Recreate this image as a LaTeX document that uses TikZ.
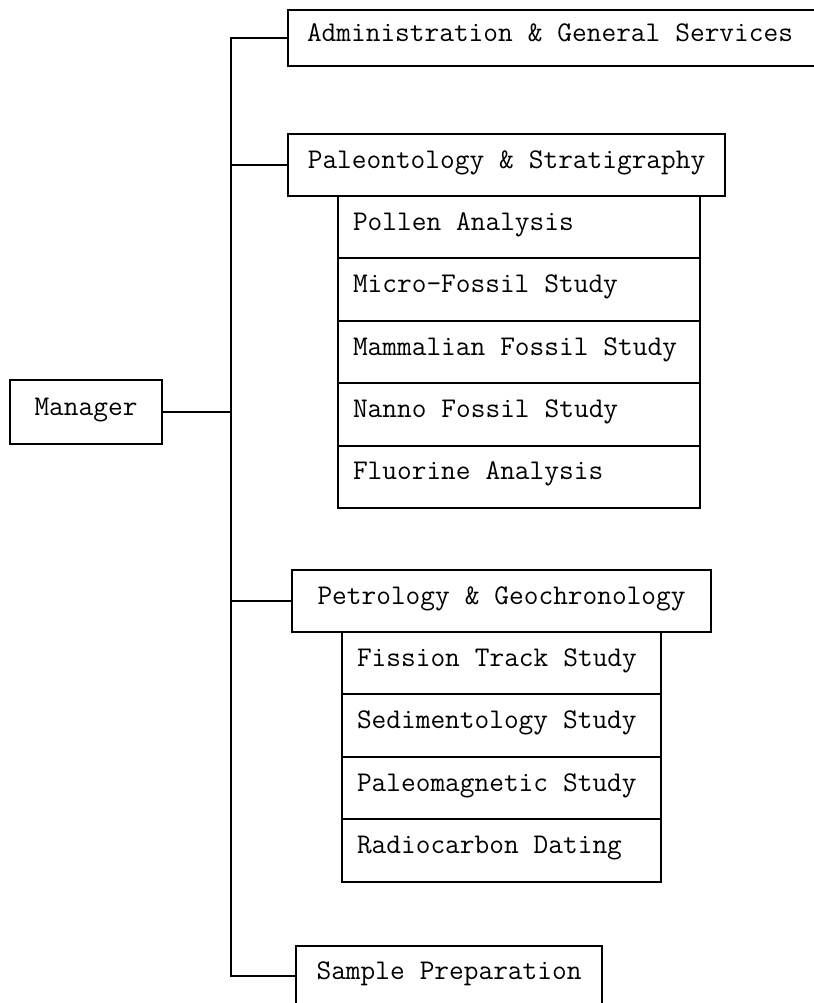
\documentclass[tikz,border=0pt]{standalone}
\usepackage{tikz}
\usetikzlibrary{positioning}

\newcommand{\orgfont}{\fontsize{20.3}{24}\selectfont\ttfamily\spaceskip=0.525em\relax}

\begin{document}
\begin{tikzpicture}[x=0.025cm, y=-0.025cm,
    every node/.style={font=\orgfont},
    unit/.style={draw, line width=1.4pt, outer sep=0pt, anchor=west, minimum height=1.55cm, text height=1.0ex, text depth=0pt},
    leftbox/.style={execute at begin node={\hbox to #1\bgroup}, execute at end node={\hfil\egroup}},
    sub/.style={draw, line width=1.4pt, outer sep=0pt, anchor=north west, minimum height=1.56cm, inner xsep=0.375cm, text height=1.0ex, text depth=0pt, leftbox=#1},
    link/.style={draw, line width=1.4pt}
]
    \useasboundingbox (0,0) rectangle (813,1003);

    % Units
    \node[unit, anchor=center, minimum width=3.8cm, minimum height=1.6cm] (mgr) at (86,412) {Manager};
    \node[unit, inner xsep=0.475cm, minimum height=1.4cm, leftbox=13cm] (admin) at (288,38) {Administration \& General Services};
    \node[unit, minimum width=10.925cm] (paleo) at (288,165) {Paleontology \& Stratigraphy};
    \node[unit, minimum width=10.475cm] (petro) at (292,601) {Petrology \& Geochronology};
    \node[unit, minimum width=7.65cm, minimum height=1.5cm] (sprep) at (296,976) {Sample Preparation};

    % Paleontology sections
    \node[sub=8.3cm] (pollen) at ([xshift=1.25cm]paleo.south west) {Pollen Analysis};
    \node[sub=8.3cm] (micro) at (pollen.south west) {Micro-Fossil Study};
    \node[sub=8.3cm] (mammal) at (micro.south west) {Mammalian Fossil Study};
    \node[sub=8.3cm] (nanno) at (mammal.south west) {Nanno Fossil Study};
    \node[sub=8.3cm] (fluor) at (nanno.south west) {Fluorine Analysis};

    % Petrology sections
    \node[sub=7.225cm] (fission) at ([xshift=1.25cm]petro.south west) {Fission Track Study};
    \node[sub=7.225cm] (sedi) at (fission.south west) {Sedimentology Study};
    \node[sub=7.225cm] (pmag) at (sedi.south west) {Paleomagnetic Study};
    \node[sub=7.225cm] (radio) at (pmag.south west) {Radiocarbon Dating};

    % Links
    \coordinate (trunk) at (231,38);
    \draw[link] (admin.west) -- (admin.west -| trunk) |- (sprep.west);
    \draw[link] (paleo.west) -- (paleo.west -| trunk);
    \draw[link] (petro.west) -- (petro.west -| trunk);
    \draw[link] (mgr.east) -- (mgr.east -| trunk);

\end{tikzpicture}
\end{document}
